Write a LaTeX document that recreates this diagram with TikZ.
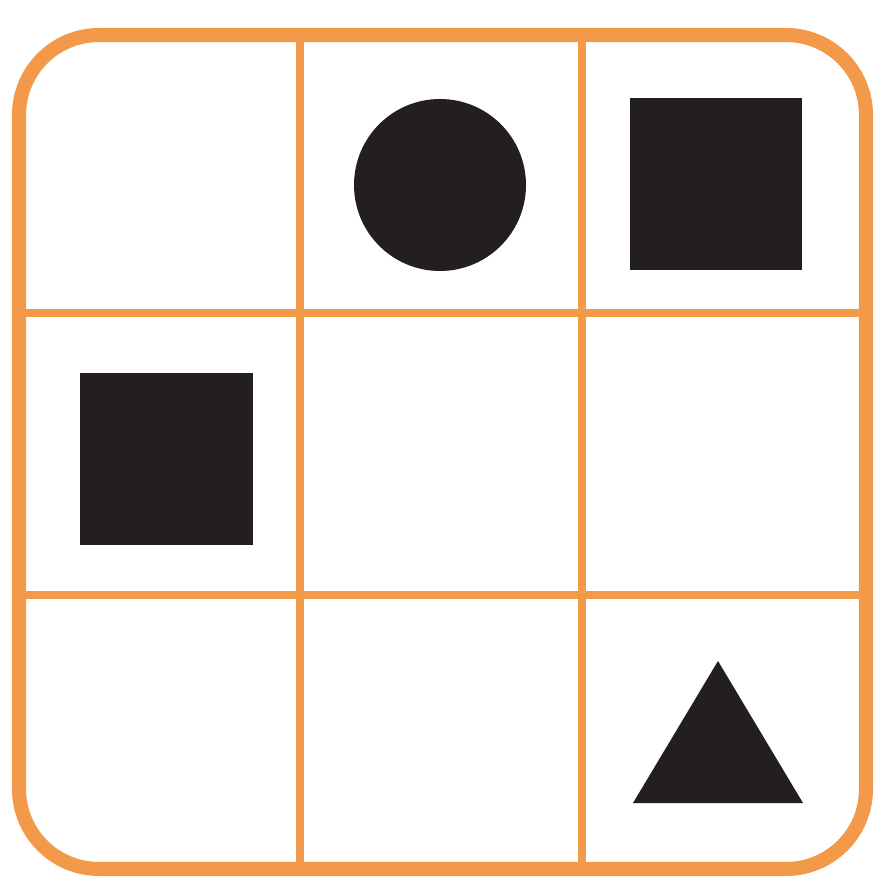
\documentclass[tikz,border=0pt]{standalone}
\usepackage{xcolor}
\definecolor{gridorange}{HTML}{F29A4A}
\definecolor{shapeblack}{HTML}{231F20}
\begin{document}
\begin{tikzpicture}[x=0.03cm, y=-0.03cm]
  \tikzset{
    frame/.style={draw=gridorange, line width=12pt, rounded corners=2.4cm},
    gridline/.style={draw=gridorange, line width=6pt},
    token/.style={fill=shapeblack},
  }
  \useasboundingbox (0,0) rectangle (886,881);

  %% ===== grid =====
  \foreach \gx in {300, 582} {
    \draw[gridline] (\gx,35) -- (\gx,869);
  }
  \foreach \gy in {313, 595} {
    \draw[gridline] (19,\gy) -- (866,\gy);
  }
  \draw[frame] (19,35) rectangle (866,869);

  %% ===== tokens =====
  \fill[token] (440,185) circle (86);
  \fill[token] (630,98) rectangle (802,270);
  \fill[token] (80,373) rectangle (253,545);
  \fill[token] (718,661) -- (803,803) -- (633,803) -- cycle;
\end{tikzpicture}
\end{document}
